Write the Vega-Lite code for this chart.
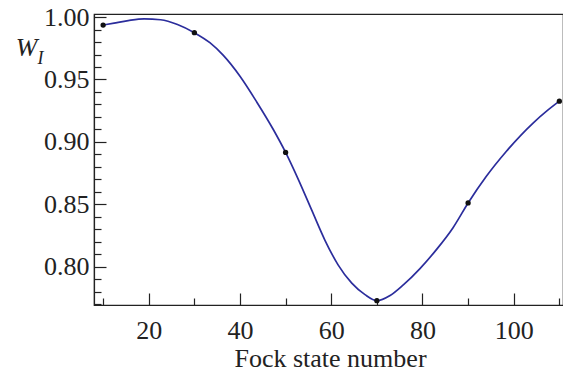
{
  "$schema": "https://vega.github.io/schema/vega-lite/v6.json",
  "width": 469,
  "height": 291,
  "autosize": "none",
  "padding": {"left": 94, "top": 14, "right": 0, "bottom": 67},
  "background": "white",
  "config": {
    "view": {"stroke": "#222", "strokeWidth": 1.2},
    "axis": {"labelFont": "Liberation Serif", "titleFont": "Liberation Serif", "labelColor": "#222", "titleColor": "#222", "domainColor": "#222", "tickColor": "#222", "grid": false}
  },
  "datasets": {
    "samples": [
      {"n": 10, "w": 0.9936},
      {"n": 30, "w": 0.9875},
      {"n": 50, "w": 0.8915},
      {"n": 70, "w": 0.7727},
      {"n": 90, "w": 0.851},
      {"n": 110, "w": 0.9326}
    ],
    "curve": [
      {"n": 10, "w": 0.9936},
      {"n": 12.4, "w": 0.9952},
      {"n": 15.5, "w": 0.9972},
      {"n": 19, "w": 0.9986},
      {"n": 22.6, "w": 0.9979},
      {"n": 26.3, "w": 0.9941},
      {"n": 30, "w": 0.9875},
      {"n": 33.4, "w": 0.9795},
      {"n": 36.3, "w": 0.9695},
      {"n": 40, "w": 0.9526},
      {"n": 43.7, "w": 0.9318},
      {"n": 47.3, "w": 0.9099},
      {"n": 50, "w": 0.8915},
      {"n": 52.8, "w": 0.8697},
      {"n": 55.7, "w": 0.8454},
      {"n": 58.6, "w": 0.8213},
      {"n": 61.5, "w": 0.8014},
      {"n": 64.5, "w": 0.7867},
      {"n": 67.4, "w": 0.7775},
      {"n": 70, "w": 0.7727},
      {"n": 72.9, "w": 0.7768},
      {"n": 75.8, "w": 0.7853},
      {"n": 79.4, "w": 0.7982},
      {"n": 83.1, "w": 0.8138},
      {"n": 86.7, "w": 0.8312},
      {"n": 90, "w": 0.851},
      {"n": 94, "w": 0.8724},
      {"n": 98.4, "w": 0.8925},
      {"n": 104.3, "w": 0.9153},
      {"n": 107.2, "w": 0.9246},
      {"n": 110, "w": 0.9326}
    ]
  },
  "layer": [
    {
      "data": {"name": "curve"},
      "mark": {"type": "line", "interpolate": "monotone", "color": "#2b2d9c", "strokeWidth": 1.7, "clip": true},
      "encoding": {
        "x": {"field": "n", "type": "quantitative", "scale": {"domain": [8, 110.8], "nice": false, "zero": false},
          "axis": {
            "values": [10,15,20,25,30,35,40,45,50,55,60,65,70,75,80,85,90,95,100,105,110],
            "tickSize": {"condition": {"test": "datum.value % 20 === 0", "value": -12}, "value": -7},
            "tickWidth": 1.2, "domainWidth": 1.2,
            "labelExpr": "datum.value % 20 === 0 ? datum.label : ''",
            "labelFontSize": 26, "labelPadding": 24, "labelFlush": false,
            "title": "Fock state number", "titleFontSize": 26, "titleFontWeight": "normal",
            "titleBaseline": "alphabetic", "titleY": 61, "titleX": 236
          }},
        "y": {"field": "w", "type": "quantitative", "scale": {"domain": [0.7692, 1.0025], "nice": false, "zero": false},
          "axis": {
            "values": [0.77,0.78,0.79,0.8,0.81,0.82,0.83,0.84,0.85,0.86,0.87,0.88,0.89,0.9,0.91,0.92,0.93,0.94,0.95,0.96,0.97,0.98,0.99,1.0],
            "tickSize": {"condition": {"test": "round(datum.value*100) % 5 === 0", "value": -12}, "value": -7},
            "tickWidth": 1.2, "domainWidth": 1.2,
            "labelExpr": "round(datum.value*100) % 5 === 0 ? format(datum.value, '.2f') : ''",
            "labelFontSize": 26, "labelPadding": 17, "labelFlush": false,
            "title": "W", "titleFontSize": 26, "titleFontStyle": "italic", "titleFontWeight": "normal",
            "titleAngle": 0, "titleAlign": "center", "titleBaseline": "alphabetic", "titleX": -68, "titleY": 41
          }}
      }
    },
    {
      "data": {"name": "samples"},
      "mark": {"type": "point", "filled": true, "color": "#111", "size": 28, "opacity": 1},
      "encoding": {
        "x": {"field": "n", "type": "quantitative"},
        "y": {"field": "w", "type": "quantitative",
          "axis": {"orient": "left", "domain": false, "ticks": false, "labels": false,
            "title": "I", "titleFont": "Liberation Serif", "titleFontSize": 18, "titleFontStyle": "italic", "titleFontWeight": "normal",
            "titleAngle": 0, "titleAlign": "center", "titleBaseline": "alphabetic", "titleX": -54, "titleY": 49}}
      }
    }
  ],
  "resolve": {"axis": {"y": "independent"}}
}
